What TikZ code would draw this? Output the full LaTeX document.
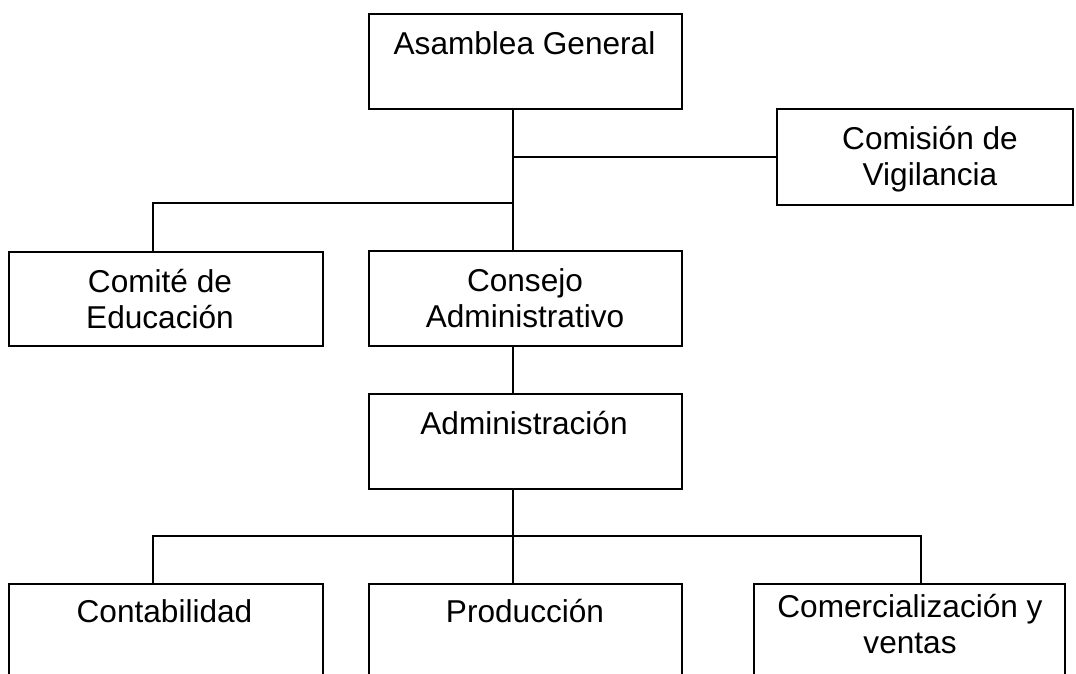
\documentclass[tikz,border=0pt]{standalone}
\usepackage{fontspec}
\setmainfont{Liberation Sans}
\newcommand\twoline[2]{\vtop{\halign{\hfil##\hfil\cr #1\cr #2\cr}}}
\begin{document}
\begin{tikzpicture}[x=1pt,y=-1pt,
  box/.style={draw=black,line width=1.5pt,rectangle,inner sep=0pt,anchor=north west},
  lbl/.style={anchor=base,inner sep=0pt,font=\fontsize{31.6}{36}\selectfont},
  conn/.style={draw=black,line width=1.5pt}]
\useasboundingbox (0,0) rectangle (1076,673);
\clip (0,0) rectangle (1076,673);
% boxes
\node[box,minimum width=313pt,minimum height=95pt] (A) at (368,13) {};
\node[box,minimum width=296pt,minimum height=96pt] (V) at (776,108) {};
\node[box,minimum width=314pt,minimum height=94pt] (E) at (8,251) {};
\node[box,minimum width=313pt,minimum height=95pt] (C) at (368,250) {};
\node[box,minimum width=313pt,minimum height=95pt] (Ad) at (368,393) {};
\node[box,minimum width=314pt,minimum height=130pt] (Ct) at (8,583) {};
\node[box,minimum width=313pt,minimum height=130pt] (P) at (368,583) {};
\node[box,minimum width=311pt,minimum height=130pt] (Cm) at (753,583) {};
% labels
\node[lbl] (At) at (524.5,54) {Asamblea General};
\node[lbl] (Vt) at (930,149) {\twoline{Comisión de}{Vigilancia}};
\node[lbl] (Et) at (160,292) {\twoline{Comité de}{Educación}};
\node[lbl] (Ctx) at (525,291) {\twoline{Consejo}{Administrativo}};
\node[lbl] (Adt) at (524,434) {Administración};
\node[lbl] (Ctt) at (164.5,622) {Contabilidad};
\node[lbl] (Pt) at (525,622) {Producción};
\node[lbl] (Cmt) at (910,617) {\twoline{Comercialización y}{ventas}};
% junction coordinates
\coordinate (spine) at (513,0);
\coordinate (j1) at (513,203);
\coordinate (ej) at (153,203);
\coordinate (bj) at (513,536);
\coordinate (bl) at (153,536);
\coordinate (br) at (921,536);
% connectors
\draw[conn] (spine |- A.south) -- (spine |- C.north);
\draw[conn] (spine |- V.west) -- (V.west);
\draw[conn] (j1) -- (ej) -- (ej |- E.north);
\draw[conn] (spine |- C.south) -- (spine |- Ad.north);
\draw[conn] (spine |- Ad.south) -- (spine |- P.north);
\draw[conn] (bl |- Ct.north) -- (bl) -- (br) -- (br |- Cm.north);
\end{tikzpicture}
\end{document}
